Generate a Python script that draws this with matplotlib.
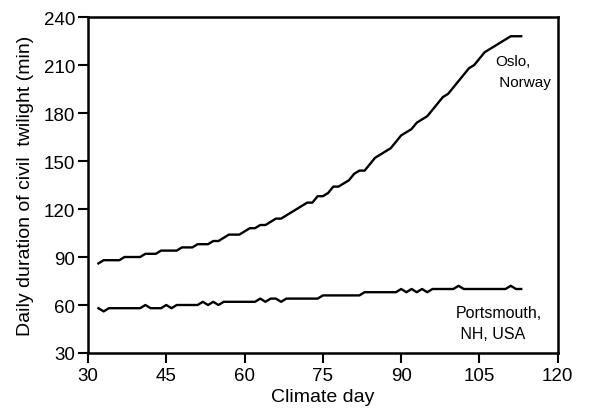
import matplotlib
matplotlib.use("Agg")
import matplotlib.pyplot as plt

plt.rcParams['font.family'] = ['Liberation Sans', 'DejaVu Sans']

days = list(range(32, 114))

oslo = [86, 88, 88, 88, 88, 90, 90, 90, 90, 92, 92, 92, 94, 94, 94, 94,
        96, 96, 96, 98, 98, 98, 100, 100, 102, 104, 104, 104, 106, 108, 108,
        110, 110, 112, 114, 114, 116, 118, 120, 122, 124, 124, 128, 128, 130,
        134, 134, 136, 138, 142, 144, 144, 148, 152, 154, 156, 158, 162, 166,
        168, 170, 174, 176, 178, 182, 186, 190, 192, 196, 200, 204, 208, 210,
        214, 218, 220, 222, 224, 226, 228, 228, 228]

portsmouth = [58, 56, 58, 58, 58, 58, 58, 58, 58, 60, 58, 58, 58, 60, 58, 60,
              60, 60, 60, 60, 62, 60, 62, 60, 62, 62, 62, 62, 62, 62, 62, 64,
              62, 64, 64, 62, 64, 64, 64, 64, 64, 64, 64, 66, 66, 66, 66, 66,
              66, 66, 66, 68, 68, 68, 68, 68, 68, 68, 70, 68, 70, 68, 70, 68,
              70, 70, 70, 70, 70, 72, 70, 70, 70, 70, 70, 70, 70, 70, 70, 72,
              70, 70]

xticks = [30, 45, 60, 75, 90, 105, 120]
yticks = [30, 60, 90, 120, 150, 180, 210, 240]

fig = plt.figure(figsize=(6.01, 4.10), dpi=100)
ax = fig.add_axes([0.1464, 0.1366, 0.928 - 0.1464, 0.956 - 0.1366])

ax.plot(days, oslo, color='black', lw=1.7)
ax.plot(days, portsmouth, color='black', lw=1.7)

ax.set_xlim(30, 120)
ax.set_ylim(30, 240)
ax.set_xticks(xticks)
ax.set_yticks(yticks)
ax.tick_params(direction='out', length=7, width=1.5, labelsize=13.5)
ax.tick_params(axis='x', pad=3)
ax.tick_params(axis='y', pad=2)
for s in ax.spines.values():
    s.set_linewidth(1.8)

ax.set_xlabel('Climate day', fontsize=14, labelpad=3)
ax.set_ylabel('Daily duration of civil  twilight (min)', fontsize=14, labelpad=7)

ax.text(108, 206, 'Oslo,\n Norway', fontsize=11, ha='left', va='center',
        linespacing=1.6)
ax.text(100.5, 48.5, 'Portsmouth,\n NH, USA', fontsize=11.5, ha='left',
        va='center', linespacing=1.5)

fig.savefig('out.png', dpi=100)
